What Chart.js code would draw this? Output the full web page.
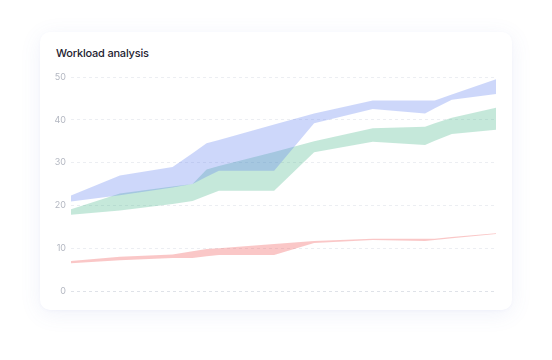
<!DOCTYPE html>
<html>
<head>
<meta charset="utf-8">
<script src="https://cdn.jsdelivr.net/npm/chart.js@4.4.1/dist/chart.umd.min.js"></script>
<style>
  html, body { margin: 0; padding: 0; background: #ffffff; }
  body { width: 552px; height: 360px; position: relative; overflow: hidden; font-family: Inter, "Noto Sans", sans-serif; }
  .card { position: absolute; left: 40px; top: 32px; width: 472px; height: 278px; background: #fff; border-radius: 10px;
          box-shadow: 0 4px 22px rgba(90, 110, 200, 0.09), 0 1px 3px rgba(90, 110, 200, 0.04); }
  .title { position: absolute; left: 56px; top: 48px; font-size: 11px; line-height: 1; font-weight: 500; color: #1d2230; letter-spacing: -0.2px; }
  canvas { position: absolute; left: 0; top: 0; }
</style>
</head>
<body>
<div class="card"></div>
<div class="title">Workload analysis</div>
<canvas id="c" width="552" height="360"></canvas>
<script>
// x positions (shared), y tick labels
const xs = [0, 11.5, 23.9, 28.6, 31.9, 34.8, 47.8, 57.2, 71.0, 83.3, 85.6, 89.6, 100];
const yTicks = [0, 10, 20, 30, 40, 50];

// Series ranges (upper / lower bounds)
const blueHigh  = [22.3, 27.0, 29.0, 32.2, 34.5, 35.3, 38.9, 41.5, 44.5, 44.5, 44.5, 45.9, 49.5];
const blueLow   = [20.9, 22.4, 24.2, 25.0, 26.7, 28.1, 28.1, 39.2, 42.5, 41.5, 42.7, 44.7, 46.0];
const greenHigh = [19.1, 22.8, 24.4, 25.0, 28.4, 29.2, 32.5, 35.0, 38.0, 38.4, 39.2, 40.5, 42.8];
const greenLow  = [17.8, 18.8, 20.3, 21.0, 22.3, 23.4, 23.4, 32.4, 34.9, 34.1, 35.1, 36.7, 37.7];
const redHigh   = [7.0, 8.0, 8.5, 9.3, 9.8, 10.0, 11.0, 11.7, 12.2, 12.2, 12.2, 12.6, 13.5];
const redLow    = [6.5, 7.2, 7.7, 7.7, 8.1, 8.4, 8.4, 11.2, 11.9, 11.7, 11.9, 12.3, 13.3];

const pts = arr => arr.map((v, i) => ({ x: xs[i], y: v }));

function band(hi, lo, color) {
  return [
    { data: pts(hi), fill: '+1', backgroundColor: color, borderWidth: 0, pointRadius: 0, tension: 0 },
    { data: pts(lo), fill: false, backgroundColor: 'transparent', borderWidth: 0, pointRadius: 0, tension: 0 }
  ];
}

new Chart(document.getElementById('c'), {
  type: 'line',
  data: {
    datasets: [
      ...band(blueHigh, blueLow, 'rgba(88, 122, 238, 0.30)'),
      ...band(greenHigh, greenLow, 'rgba(62, 178, 132, 0.30)'),
      ...band(redHigh, redLow, 'rgba(239, 68, 68, 0.30)')
    ]
  },
  options: {
    responsive: false,
    animation: false,
    events: [],
    layout: { padding: { left: 40, right: 56, top: 77, bottom: 69 } },
    plugins: { legend: { display: false }, tooltip: { enabled: false }, title: { display: false } },
    scales: {
      x: { type: 'linear', min: 0, max: 100, display: false },
      y: {
        min: 0, max: 50,
        afterFit: s => { s.width = 31; },
        afterBuildTicks: s => { s.ticks = yTicks.map(v => ({ value: v })); },
        border: { display: false, dash: [3, 3] },
        grid: { drawTicks: false, color: ctx => ctx.tick && ctx.tick.value === 0 ? '#dfe2e8' : '#eceef2', lineWidth: 1 },
        ticks: { padding: 5, color: '#b3b7c1', font: { family: 'Inter', size: 9 } }
      }
    }
  }
});
</script>
</body>
</html>
